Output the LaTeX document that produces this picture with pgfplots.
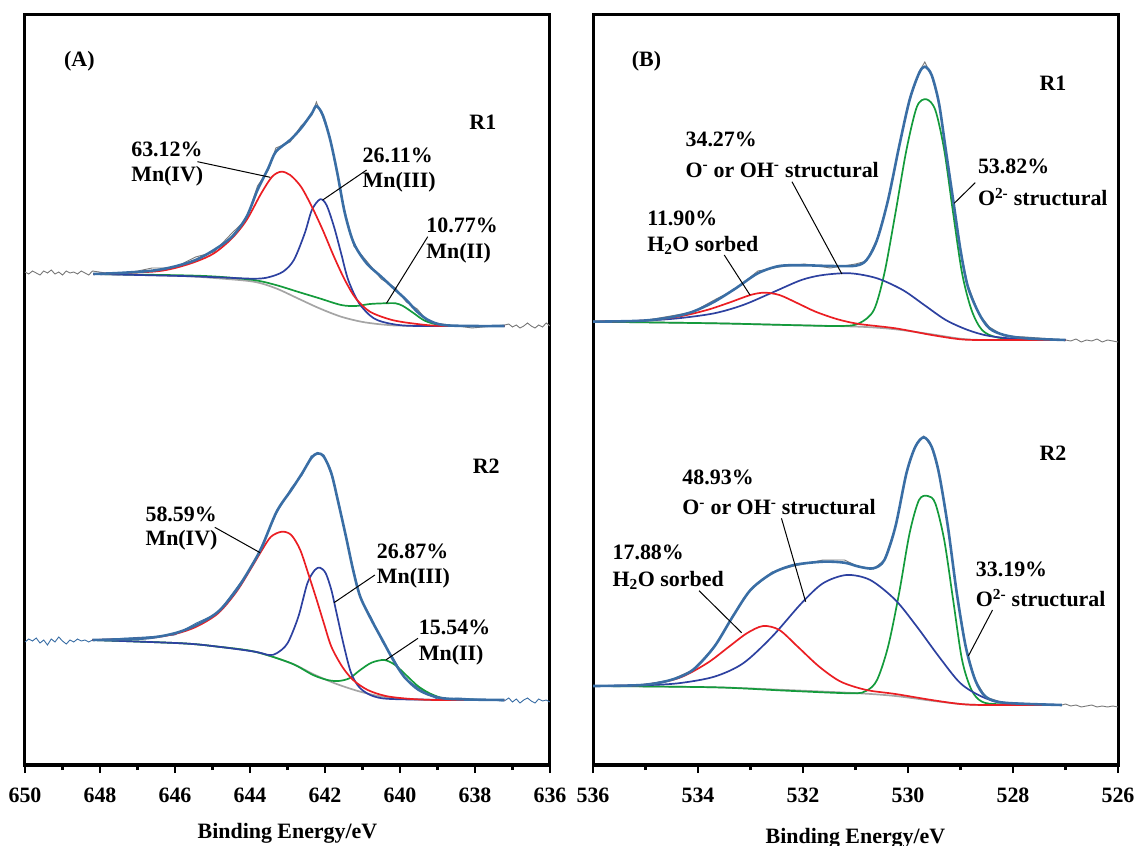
\documentclass[border=0pt]{standalone}
\usepackage{pgfplots}
\pgfplotsset{compat=1.18}
\usepackage{fontspec}
\setmainfont{Liberation Serif}
\definecolor{env}{RGB}{58,110,165}
\definecolor{cred}{RGB}{235,30,35}
\definecolor{cblue}{RGB}{45,65,160}
\definecolor{cgreen}{RGB}{20,155,60}
\definecolor{cbg}{RGB}{165,165,165}
\definecolor{craw}{RGB}{120,120,120}
\newcommand{\lf}{\fontsize{22}{26}\selectfont\bfseries}
\tikzset{lead/.style={black, line width=1bp}}
\pgfplotsset{
  xpspanel/.style={
    scale only axis, width=525bp, height=750bp, anchor=south west,
    x dir=reverse, ymin=-765, ymax=-15,
    ytick=\empty, axis line style={line width=3bp},
    tick align=outside, tick style={black, line width=2.5bp},
    major tick length=8bp, minor tick length=5bp, minor x tick num=1,
    xtick pos=bottom,
    /pgf/number format/assume math mode=true,
    xticklabel={\textbf{\pgfmathprintnumber[assume math mode=true]{\tick}}},
    xticklabel style={font=\lf, anchor=center, yshift=-22bp},
    xlabel={Binding Energy/eV},
  },
  envl/.style={env, line width=2.6bp, smooth},
  comp/.style={line width=1.7bp, smooth},
  rawl/.style={craw, line width=0.9bp},
}
\begin{document}
\begin{tikzpicture}[font=\lf]
\path[use as bounding box] (0bp,0bp) rectangle (1137bp,846bp);
% ---------------- Panel A ----------------
\begin{axis}[xpspanel, at={(25bp,81bp)}, xmin=636, xmax=650,
  xtick={636,638,640,642,644,646,648,650},
  xlabel style={font=\lf, at={(axis description cs:0.5,0)}, anchor=center, yshift=-68bp}]
% R1 raw
\addplot[rawl] coordinates {(650.0,-272) (649.9,-274) (649.8,-271) (649.7,-273) (649.6,-275) (649.5,-271) (649.4,-273) (649.3,-270) (649.2,-274) (649.1,-272) (649.0,-275) (648.9,-271) (648.8,-273) (648.7,-272) (648.6,-274) (648.5,-271) (648.4,-273) (648.3,-275) (648.2,-271)
 (647.5,-275) (646.61,-268) (646.03,-268) (645.45,-257) (644.96,-252) (644.48,-233) (644.09,-219) (643.80,-186) (643.51,-170) (643.31,-148) (642.93,-142) (642.64,-126) (642.35,-115) (642.23,-102) (642.06,-117) (641.86,-138) (641.67,-175) (641.47,-211) (641.23,-246) (640.89,-261) (640.50,-279) (640.12,-288) (639.83,-302) (639.54,-309) (639.25,-322) (638.86,-324) (638.08,-328) (637.21,-325)
 (637.1,-324) (637.0,-327) (636.9,-325) (636.8,-328) (636.7,-326) (636.6,-323) (636.5,-326) (636.4,-328) (636.3,-325) (636.2,-327) (636.1,-323) (636.0,-326)};
\addplot[comp, cbg] coordinates {(648.18,-274) (645.83,-276) (644.86,-278.3) (643.90,-281.7) (643.31,-288.3) (642.73,-298.3) (642.15,-308.3) (641.57,-316.7) (640.99,-322) (640.41,-324.7) (639.83,-325.7) (637.21,-326)};
\addplot[comp, cgreen] coordinates {(648.18,-274) (645.83,-275.3) (644.86,-276.7) (643.90,-280) (643.31,-285) (642.73,-291.7) (642.15,-298.3) (641.57,-305) (641.18,-306) (640.80,-304) (640.41,-303.3) (640.12,-303.3) (639.92,-306) (639.63,-313.3) (639.34,-320.7) (638.95,-325) (638.47,-326) (637.21,-326)};
\addplot[comp, cblue] coordinates {(648.18,-274) (645.83,-276) (644.86,-277.3) (643.90,-278.7) (643.51,-277.3) (643.12,-271.7) (642.83,-260) (642.54,-233.3) (642.35,-210) (642.13,-199.3) (641.96,-205) (641.76,-226.7) (641.57,-253.3) (641.38,-280) (641.09,-303.3) (640.70,-318.3) (640.21,-324) (639.54,-326) (637.21,-326)};
\addplot[comp, cred] coordinates {(648.18,-274) (646.61,-271.7) (646.03,-268.3) (645.45,-261.7) (644.96,-253.3) (644.48,-238.3) (644.09,-220) (643.70,-193.3) (643.41,-176.7) (643.17,-171.7) (642.93,-175) (642.64,-186.7) (642.35,-206.7) (642.06,-230) (641.76,-256.7) (641.47,-280) (641.18,-298.3) (640.80,-311.7) (640.21,-320) (639.54,-324) (638.86,-326) (637.21,-326)};
\addplot[envl] coordinates {(648.18,-274) (647.5,-273) (646.61,-270.7) (646.03,-266.7) (645.45,-260) (644.96,-250) (644.48,-236.7) (644.09,-216.7) (643.80,-190) (643.51,-168) (643.31,-151.7) (642.93,-140) (642.64,-128.3) (642.35,-113.3) (642.23,-106) (642.06,-115) (641.86,-140) (641.67,-173.3) (641.47,-213.3) (641.23,-243.3) (640.89,-263.3) (640.50,-276.7) (640.12,-290) (639.83,-300) (639.54,-311.7) (639.25,-320) (638.86,-325) (638.08,-326) (637.21,-326)};
% R2 raw
\addplot[env, line width=0.9bp] coordinates {(650.0,-642) (649.9,-639) (649.8,-641) (649.7,-638) (649.6,-643) (649.5,-640) (649.4,-645) (649.3,-639) (649.2,-642) (649.1,-637) (649.0,-641) (648.9,-644) (648.8,-640) (648.7,-642) (648.6,-639) (648.5,-641) (648.4,-640) (648.3,-642) (648.2,-640)
 (646.79,-637) (646.01,-635) (645.43,-623) (644.85,-613) (644.36,-588) (643.97,-568) (643.68,-545) (643.29,-513) (642.90,-488) (642.61,-475) (642.37,-456) (642.20,-454) (642.03,-455) (641.83,-475) (641.64,-501) (641.44,-538) (641.25,-568) (641.06,-598) (640.76,-618) (640.47,-642) (640.18,-658) (639.89,-678) (639.50,-688) (639.01,-699) (638.43,-698) (637.22,-701)
 (637.1,-698) (637.0,-702) (636.9,-699) (636.8,-703) (636.7,-700) (636.6,-698) (636.5,-701) (636.4,-703) (636.3,-699) (636.2,-701) (636.1,-700) (636.0,-702)};
\addplot[comp, cbg] coordinates {(648.20,-640) (645.82,-643.3) (644.85,-646.7) (643.87,-651.7) (642.90,-663.3) (642.32,-674) (641.74,-683.3) (641.15,-690.7) (640.57,-696) (639.99,-698.7) (639.01,-700) (637.22,-700)};
\addplot[comp, cgreen] coordinates {(648.20,-640) (645.82,-643.3) (644.85,-646.7) (643.87,-651.7) (642.90,-663.3) (642.32,-675) (641.93,-680) (641.64,-681) (641.35,-678.3) (641.06,-670) (640.76,-662.7) (640.42,-660) (640.13,-665) (639.84,-675) (639.50,-686.7) (639.11,-695) (638.63,-699.3) (637.22,-700)};
\addplot[comp, cblue] coordinates {(648.20,-640) (645.82,-643.3) (644.85,-646.7) (643.87,-651.7) (643.49,-655) (643.29,-653.3) (643.00,-643.3) (642.71,-616.7) (642.47,-583.3) (642.27,-570) (642.13,-567.7) (641.98,-573.3) (641.83,-590) (641.69,-613.3) (641.49,-646.7) (641.30,-673.3) (641.06,-688.3) (640.67,-696.7) (639.99,-699.3) (637.22,-700)};
\addplot[comp, cred] coordinates {(648.20,-640) (646.79,-638.3) (646.01,-634) (645.43,-626.7) (644.85,-613.3) (644.36,-591.7) (643.97,-568.3) (643.68,-550) (643.44,-536.7) (643.15,-531.7) (642.90,-535) (642.66,-550) (642.42,-576.7) (642.22,-600) (642.03,-623.3) (641.83,-646.7) (641.54,-666.7) (641.25,-680) (640.86,-690) (640.38,-696) (639.79,-698.7) (639.01,-700) (637.22,-700)};
\addplot[envl] coordinates {(648.20,-640) (646.79,-638.3) (646.01,-633.3) (645.43,-625) (644.85,-611.7) (644.36,-590) (643.97,-566.7) (643.68,-546.7) (643.29,-511.7) (642.90,-490) (642.61,-473.3) (642.37,-458.3) (642.20,-453.3) (642.03,-456.7) (641.83,-473.3) (641.64,-503.3) (641.44,-536.7) (641.25,-570) (641.06,-596.7) (640.76,-620) (640.47,-640) (640.18,-660) (639.89,-676.7) (639.50,-690) (639.01,-697.3) (638.43,-699.3) (637.22,-700)};
% annotations A
\node at (axis cs:648.55,-61.7) {(A)};
\node at (axis cs:637.79,-122.7) {R1};
\node at (axis cs:637.70,-466.7) {R2};
\node[anchor=west,inner sep=0pt] at (axis cs:647.17,-149) {63.12\%};
\node[anchor=west,inner sep=0pt] at (axis cs:647.17,-176) {Mn(IV)};
\draw[lead] (axis cs:645.40,-161.7) -- (axis cs:643.46,-177.3);
\node[anchor=west,inner sep=0pt] at (axis cs:641.0,-155) {26.11\%};
\node[anchor=west,inner sep=0pt] at (axis cs:641.0,-182) {Mn(III)};
\draw[lead] (axis cs:640.89,-170) -- (axis cs:642.06,-200);
\node[anchor=west,inner sep=0pt] at (axis cs:639.30,-225.7) {10.77\%};
\node[anchor=west,inner sep=0pt] at (axis cs:639.30,-253.3) {Mn(II)};
\draw[lead] (axis cs:639.26,-236.7) -- (axis cs:640.36,-303.3);
\node[anchor=west,inner sep=0pt] at (axis cs:646.79,-514) {58.59\%};
\node[anchor=west,inner sep=0pt] at (axis cs:646.79,-540.7) {Mn(IV)};
\draw[lead] (axis cs:644.94,-527.3) -- (axis cs:643.73,-552.7);
\node[anchor=west,inner sep=0pt] at (axis cs:640.62,-551) {26.87\%};
\node[anchor=west,inner sep=0pt] at (axis cs:640.62,-578.3) {Mn(III)};
\draw[lead] (axis cs:640.67,-575) -- (axis cs:641.76,-602.7);
\node[anchor=west,inner sep=0pt] at (axis cs:639.50,-627.3) {15.54\%};
\node[anchor=west,inner sep=0pt] at (axis cs:639.50,-655) {Mn(II)};
\draw[lead] (axis cs:639.52,-638.3) -- (axis cs:640.38,-660);
\end{axis}
% ---------------- Panel B ----------------
\begin{axis}[xpspanel, at={(593bp,81bp)}, xmin=526, xmax=536,
  xtick={526,528,530,532,534,536},
  xlabel style={font=\lf, at={(axis description cs:0.5,0)}, anchor=center, yshift=-73bp}]
\addplot[rawl] coordinates {(536.00,-321) (535.07,-321) (534.52,-316) (534.10,-312) (533.69,-300) (533.28,-289) (532.86,-271) (532.45,-267) (531.97,-264) (531.48,-268) (531.00,-264) (530.79,-261) (530.59,-239) (530.38,-201) (530.17,-146) (529.97,-101) (529.79,-72) (529.68,-62) (529.55,-76) (529.41,-102) (529.28,-151) (529.14,-199) (529.00,-251) (528.86,-285) (528.65,-314) (528.45,-327) (528.17,-336) (527.76,-337) (527.00,-340)
 (526.9,-341) (526.8,-339) (526.7,-342) (526.6,-340) (526.5,-341) (526.4,-339) (526.3,-342) (526.2,-340) (526.1,-341) (526.0,-342)};
\addplot[comp, cbg] coordinates {(536.00,-321.7) (533.69,-323.3) (532.31,-325) (530.93,-326.7) (530.24,-329.3) (529.55,-334.3) (529.00,-338.7) (528.52,-340) (527.00,-340)};
\addplot[comp, cgreen] coordinates {(536.00,-321.7) (533.69,-323.3) (532.31,-325) (531.28,-326) (530.93,-323.3) (530.65,-310) (530.45,-273.3) (530.24,-213.3) (530.03,-150) (529.83,-106.7) (529.65,-99.3) (529.48,-110) (529.31,-150) (529.14,-213.3) (528.97,-273.3) (528.79,-310) (528.59,-330) (528.31,-337.3) (527.83,-339.3) (527.00,-340)};
\addplot[comp, cblue] coordinates {(536.00,-321.7) (535.07,-320.7) (534.38,-318.3) (533.69,-313.3) (533.14,-305) (532.59,-292.7) (532.03,-280) (531.62,-275) (531.10,-273.3) (530.59,-278.3) (530.10,-290) (529.69,-305) (529.28,-320) (528.86,-330) (528.45,-336) (527.83,-339.3) (527.00,-340)};
\addplot[comp, cred] coordinates {(536.00,-321.7) (535.07,-320.7) (534.38,-316.7) (533.83,-310) (533.41,-302.7) (533.00,-295) (532.74,-292.7) (532.45,-295) (532.10,-303.3) (531.76,-311.7) (531.34,-319.3) (530.93,-324) (530.24,-328.3) (529.55,-335) (529.00,-339.3) (528.52,-340) (527.00,-340)};
\addplot[envl] coordinates {(536.00,-321.7) (535.07,-320.7) (534.52,-317.3) (534.10,-311.7) (533.69,-301.7) (533.28,-288.3) (532.86,-273.3) (532.45,-266) (531.97,-265.3) (531.48,-266) (531.00,-265.7) (530.79,-260) (530.59,-240) (530.38,-200) (530.17,-146.7) (529.97,-100) (529.79,-73.3) (529.68,-66.7) (529.55,-75) (529.41,-103.3) (529.28,-150) (529.14,-200) (529.00,-250) (528.86,-286.7) (528.65,-313.3) (528.45,-328.3) (528.17,-335) (527.76,-338.3) (527.00,-340)};
% R2
\addplot[rawl] coordinates {(536.00,-686) (535.07,-685) (534.52,-680) (534.10,-670) (533.69,-647) (533.34,-616) (533.00,-590) (532.59,-572) (532.17,-566) (531.62,-560) (531.21,-560) (530.93,-567) (530.66,-569) (530.45,-560) (530.24,-527) (530.03,-473) (529.86,-446) (529.70,-436) (529.55,-447) (529.41,-473) (529.24,-527) (529.07,-593) (528.90,-647) (528.72,-680) (528.52,-697) (528.17,-703) (527.07,-705)
 (527.0,-704) (526.9,-706) (526.8,-705) (526.7,-707) (526.6,-706) (526.5,-705) (526.4,-707) (526.3,-706) (526.2,-707) (526.1,-706) (526.0,-707)};
\addplot[comp, cbg] coordinates {(536.00,-686) (533.69,-687.3) (532.31,-690) (530.93,-693.3) (530.24,-696) (529.55,-700.7) (529.00,-704) (528.52,-705) (527.07,-705)};
\addplot[comp, cgreen] coordinates {(536.00,-686) (533.69,-687.3) (532.31,-690.7) (531.07,-693.3) (530.79,-690.7) (530.59,-680) (530.38,-646.7) (530.17,-593.3) (529.97,-533.3) (529.79,-500) (529.62,-496) (529.48,-503.3) (529.31,-540) (529.14,-600) (528.97,-660) (528.79,-690) (528.59,-701.7) (528.24,-704.3) (527.07,-705)};
\addplot[comp, cblue] coordinates {(536.00,-686) (535.07,-685.3) (534.38,-683.3) (533.69,-676.7) (533.14,-663.3) (532.59,-636.7) (532.03,-603.3) (531.62,-583.3) (531.17,-575) (530.72,-580) (530.24,-600) (529.83,-626.7) (529.41,-656.7) (529.00,-683.3) (528.59,-696.7) (528.17,-702.7) (527.07,-705)};
\addplot[comp, cred] coordinates {(536.00,-686) (535.07,-685) (534.38,-678.3) (533.83,-663.3) (533.41,-646.7) (533.07,-633.3) (532.76,-626) (532.45,-630) (532.10,-646.7) (531.69,-666.7) (531.28,-681.7) (530.79,-690) (530.24,-694) (529.55,-700) (529.00,-704) (528.52,-705) (527.07,-705)};
\addplot[envl] coordinates {(536.00,-686) (535.07,-685) (534.52,-680) (534.10,-670) (533.69,-646.7) (533.34,-616.7) (533.00,-590) (532.59,-573.3) (532.17,-565) (531.62,-561.7) (531.21,-562.7) (530.93,-566.7) (530.66,-568.3) (530.45,-560) (530.24,-526.7) (530.03,-473.3) (529.86,-446.7) (529.70,-437.3) (529.55,-446.7) (529.41,-473.3) (529.24,-526.7) (529.07,-593.3) (528.90,-646.7) (528.72,-680) (528.52,-696.7) (528.17,-702.7) (527.07,-705)};
% annotations B
\node at (axis cs:534.98,-61.7) {(B)};
\node at (axis cs:527.24,-83.3) {R1};
\node at (axis cs:527.24,-453.3) {R2};
\node[anchor=west,inner sep=0pt] at (axis cs:534.24,-139.3) {34.27\%};
\node[anchor=west,inner sep=0pt] at (axis cs:534.24,-170) {O\textsuperscript{-} or OH\textsuperscript{-} structural};
\draw[lead] (axis cs:532.21,-181.7) -- (axis cs:531.26,-274);
\node[anchor=west,inner sep=0pt] at (axis cs:534.97,-218.3) {11.90\%};
\node[anchor=west,inner sep=0pt] at (axis cs:534.97,-245) {H\textsubscript{2}O sorbed};
\draw[lead] (axis cs:533.50,-255) -- (axis cs:533.01,-295);
\node[anchor=west,inner sep=0pt] at (axis cs:528.67,-166.7) {53.82\%};
\node[anchor=west,inner sep=0pt] at (axis cs:528.67,-197.3) {O\textsuperscript{2-} structural};
\draw[lead] (axis cs:528.72,-182.7) -- (axis cs:529.12,-203.3);
\node[anchor=west,inner sep=0pt] at (axis cs:534.30,-477.3) {48.93\%};
\node[anchor=west,inner sep=0pt] at (axis cs:534.30,-507.3) {O\textsuperscript{-} or OH\textsuperscript{-} structural};
\draw[lead] (axis cs:532.41,-518.3) -- (axis cs:531.95,-601.7);
\node[anchor=west,inner sep=0pt] at (axis cs:535.63,-552.7) {17.88\%};
\node[anchor=west,inner sep=0pt] at (axis cs:535.63,-580.7) {H\textsubscript{2}O sorbed};
\draw[lead] (axis cs:533.98,-590.7) -- (axis cs:533.17,-632.7);
\node[anchor=west,inner sep=0pt] at (axis cs:528.71,-569) {33.19\%};
\node[anchor=west,inner sep=0pt] at (axis cs:528.71,-598.3) {O\textsuperscript{2-} structural};
\draw[lead] (axis cs:528.39,-610) -- (axis cs:528.85,-656);
\end{axis}
\end{tikzpicture}
\end{document}
